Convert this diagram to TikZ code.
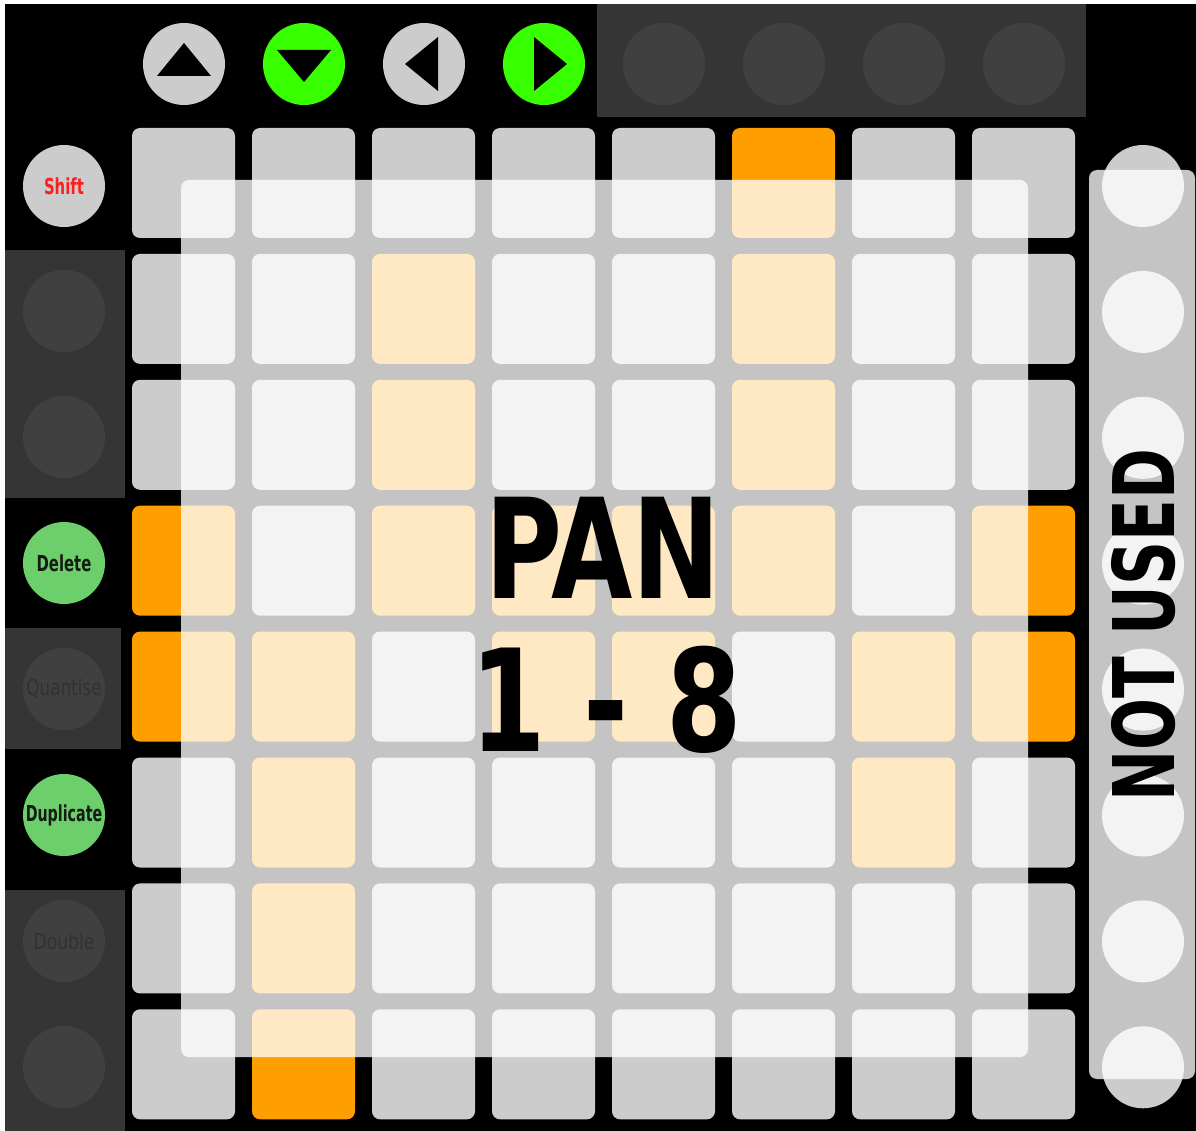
\documentclass[tikz,border=0pt]{standalone}
\usepackage{fontspec}
\usepackage{graphicx}
\setmainfont{DejaVu Sans}
\newfontfamily\condfont{DejaVu Sans Condensed}[BoldFont={DejaVu Sans Condensed Bold}]

\definecolor{padgray}{HTML}{CCCCCC}
\definecolor{padorange}{HTML}{FF9E00}
\definecolor{arrowgreen}{HTML}{38FF00}
\definecolor{sidegreen}{HTML}{6CCF6C}
\definecolor{panel}{HTML}{353535}
\definecolor{unlit}{HTML}{404040}
\definecolor{faint}{HTML}{313131}
\definecolor{ink}{HTML}{141A14}
\definecolor{shiftred}{HTML}{FF1E1E}

\begin{document}
\begin{tikzpicture}[x=1pt, y=-1pt,
    pad/.style={rectangle, rounded corners=8pt, minimum width=103pt, minimum height=110pt, inner sep=0pt, fill=padgray},
    p0/.style={pad},
    p1/.style={pad, fill=padorange},
    knob/.style={circle, minimum size=82pt, inner sep=0pt, fill=padgray},
    dead/.style={knob, fill=unlit},
    live/.style={knob, fill=sidegreen},
    veil/.style={rectangle, rounded corners=8pt, inner sep=0pt, fill=white, fill opacity=0.77},
    tag/.style={font=\condfont\bfseries\fontsize{22}{24}\selectfont},
    dimtag/.style={font=\condfont\fontsize{22}{24}\selectfont, text=faint}
]
\useasboundingbox (0,0) rectangle (1196,1131);

% Background
\fill[black] (5,4) rectangle (1196,1131);
\fill[panel] (597,4) rectangle (1086,117);
\fill[panel] (5,250) rectangle (125,498);
\fill[panel] (5,628) rectangle (121,749);
\fill[panel] (5,890) rectangle (125,1131);

% Top buttons
\node[knob] (up) at (184,64) {};
\node[knob, fill=arrowgreen] (down) at (304,64) {};
\node[knob] (left) at (424,64) {};
\node[knob, fill=arrowgreen] (right) at (544,64) {};
\foreach \i in {5,...,8}
  \node[dead] (top\i) at ({184+120*(\i-1)},64) {};
\fill[shift={(up.center)}] (-27,12) -- (27,12) -- (0,-21) -- cycle;
\fill[shift={(down.center)}] (-27,-14) -- (27,-14) -- (0,18) -- cycle;
\fill[shift={(left.center)}] (14,-27) -- (14,27) -- (-19,0) -- cycle;
\fill[shift={(right.center)}] (-10,-27) -- (-10,27) -- (23,0) -- cycle;

% Side buttons
\node[knob, tag, text=shiftred] (shiftkey) at (64,186) {\scalebox{0.75}[1]{Shift}};
\node[dead] (side2) at (64,311) {};
\node[dead] (side3) at (64,437) {};
\node[live, tag, text=ink] (delete) at (64,563) {\scalebox{0.75}[1]{Delete}};
\node[dead, dimtag] (quantise) at (64,689) {\scalebox{0.85}[1]{Quantise}};
\node[live, tag, text=ink] (duplicate) at (64,815) {\scalebox{0.72}[1]{Duplicate}};
\node[dead, dimtag] (double) at (64,941) {\scalebox{0.87}[1]{Double}};
\node[dead] (side8) at (64,1067) {};

% Pads
\foreach \r/\row in {1/{0,0,0,0,0,1,0,0}, 2/{0,0,1,0,0,1,0,0},
                     3/{0,0,1,0,0,1,0,0}, 4/{1,0,1,1,1,1,0,1},
                     5/{1,1,0,1,1,0,1,1}, 6/{0,1,0,0,0,0,1,0},
                     7/{0,1,0,0,0,0,0,0}, 8/{0,1,0,0,0,0,0,0}}
  \foreach \v [count=\c] in \row
    \node[p\v] (p\r\c) at ({183.5+120*(\c-1)},{183+125.9*(\r-1)}) {};

% Scene buttons
\foreach \i in {1,...,8}
  \node[knob] (scene\i) at (1143,{186+125.9*(\i-1)}) {};

% Overlays
\node[veil, minimum width=847pt, minimum height=877pt] (gridveil) at (604.5,618.5) {};
\node[veil, minimum width=106pt, minimum height=909pt] (sideveil) at (1142,624.5) {};

% Labels
\node[font=\condfont\bfseries\fontsize{139}{150}\selectfont] (pan) at (603,547.5) {\scalebox{0.84}[1]{PAN}};
\node[font=\condfont\bfseries\fontsize{142}{150}\selectfont] (range) at (606,700) {\scalebox{0.85}[1]{1 - 8}};
\node[font=\condfont\bfseries\fontsize{85}{90}\selectfont, rotate=90] (unused) at (1144,625) {\scalebox{0.8}[1]{NOT USED}};
\end{tikzpicture}
\end{document}
